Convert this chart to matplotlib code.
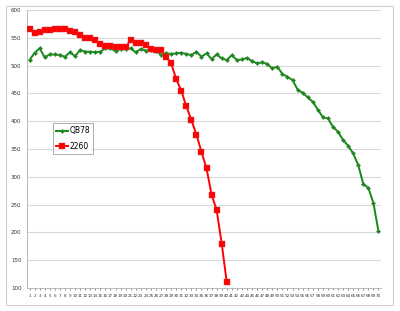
import matplotlib
matplotlib.use("Agg")
import matplotlib.pyplot as plt
from matplotlib.patches import Rectangle

categories = list(range(1, 71))
qb78 = [510, 523, 531, 515, 520, 520, 519, 516, 524, 517,
        528, 525, 525, 524, 525, 531, 531, 526, 530, 530,
        531, 524, 530, 527, 528, 527, 519, 522, 521, 522,
        523, 521, 519, 525, 516, 522, 512, 520, 513, 510,
        519, 510, 511, 514, 508, 504, 506, 503, 495, 498,
        485, 480, 474, 457, 451, 443, 435, 421, 407, 405,
        390, 381, 366, 356, 342, 321, 287, 280, 253, 202]
s2260 = [565, 558, 560, 564, 564, 565, 565, 565, 563, 560,
         555, 549, 550, 546, 539, 536, 535, 533, 534, 533,
         546, 540, 540, 537, 529, 528, 528, 516, 504, 476,
         455, 427, 402, 376, 345, 315, 268, 240, 180, 110]
yticks = [100, 150, 200, 250, 300, 350, 400, 450, 500, 550, 600]

fig = plt.figure(figsize=(4.0, 3.11), dpi=100)
fig.patch.set_facecolor("white")
fig.patches.append(Rectangle((6/400, 1-305/311), 387/400, 299/311,
                             transform=fig.transFigure, fill=False,
                             edgecolor="#d0d0d0", linewidth=0.8))
ax = fig.add_axes([27/400, 1-288/311, 354/400, 278/311])

ax.plot(categories, qb78, color="#138a13", linewidth=1.4, marker="D",
        markersize=2.2, markerfacecolor="#138a13", markeredgecolor="#5a8a5a",
        markeredgewidth=0.3, label="QB78", zorder=3)
ax.plot(categories[:len(s2260)], s2260, color="#ff0000", linewidth=1.4,
        marker="s", markersize=3.8, markerfacecolor="#ff0000",
        markeredgecolor="#d04040", markeredgewidth=0.3, label="2260", zorder=4)

ax.set_xlim(0.5, 70.5)
ax.set_ylim(100, 600)
ax.set_yticks(yticks)
ax.set_yticklabels([str(v) for v in yticks], fontsize=4)
ax.set_xticks(categories)
ax.set_xticklabels([str(c) for c in categories], fontsize=3)
ax.tick_params(axis="x", length=1.5, width=0.4, color="#a0a0a0", pad=3)
ax.tick_params(axis="y", length=0, pad=4, colors="#333333")
ax.tick_params(axis="x", colors="#333333")
ax.grid(axis="y", color="#d9d9d9", linewidth=0.8)
ax.set_axisbelow(True)
for s in ["top", "right"]:
    ax.spines[s].set_visible(False)
for s in ["left", "bottom"]:
    ax.spines[s].set_color("#b0b0b0")
    ax.spines[s].set_linewidth(0.6)

leg = ax.legend(loc="upper left", bbox_to_anchor=(26/354, (288-123)/278),
                fontsize=5.5, frameon=True, fancybox=False, borderpad=0.45,
                handlelength=1.5, handletextpad=0.2, labelspacing=0.8,
                borderaxespad=0)
leg.get_frame().set_edgecolor("#888888")
leg.get_frame().set_linewidth(0.6)

fig.savefig("out.png", dpi=100)
